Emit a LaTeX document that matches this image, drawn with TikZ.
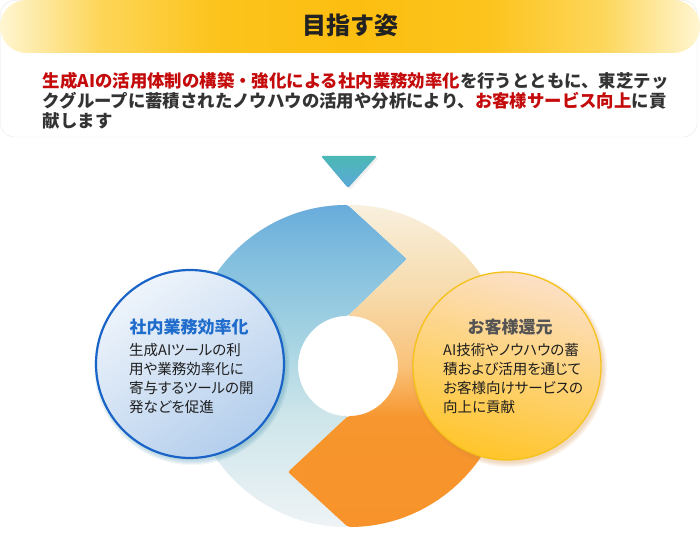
\documentclass[tikz,border=0pt]{standalone}
\usepackage{fontspec}
\setmainfont{Noto Sans CJK JP}
\newfontfamily\jpp[RawFeature=+palt]{Noto Sans CJK JP}
\XeTeXlinebreaklocale "ja"
\XeTeXlinebreakskip=0pt plus 3pt minus 1pt
\definecolor{redtxt}{HTML}{C40A0A}
\definecolor{graytxt}{HTML}{333333}
\definecolor{hdtext}{HTML}{222222}
\definecolor{hp}{HTML}{FFF6D2}
\definecolor{hm}{HTML}{FDD65A}
\definecolor{hq}{HTML}{FCC41E}
\definecolor{hg}{HTML}{FCBE10}
\definecolor{bs0}{HTML}{EEF3F6}
\definecolor{bs1}{HTML}{CDE5EA}
\definecolor{bs2}{HTML}{A3D2E2}
\definecolor{bs3}{HTML}{80BDDE}
\definecolor{bs4}{HTML}{68ACDC}
\definecolor{os0}{HTML}{F7932A}
\definecolor{os1}{HTML}{F7962E}
\definecolor{os2}{HTML}{F9C27A}
\definecolor{os3}{HTML}{F7DCAE}
\definecolor{os4}{HTML}{F8F0DE}
\definecolor{lcborder}{HTML}{1A64C8}
\definecolor{lctitle}{HTML}{1F6CCC}
\definecolor{rcborder}{HTML}{F5C21B}
\definecolor{rctitle}{HTML}{545454}
\definecolor{bodytxt}{HTML}{1E1E1E}
\pgfdeclarehorizontalshading{hdrshade}{100bp}{color(0bp)=(hp); color(25bp)=(hp); color(32bp)=(hm); color(40bp)=(hq); color(50bp)=(hg); color(60bp)=(hq); color(68bp)=(hm); color(75bp)=(hp); color(100bp)=(hp)}
\pgfdeclareverticalshading{blueshade}{100bp}{color(0bp)=(bs0); color(25bp)=(bs0); color(42.5bp)=(bs1); color(55bp)=(bs2); color(67.5bp)=(bs3); color(75bp)=(bs4); color(100bp)=(bs4)}
\pgfdeclareverticalshading{orshade}{100bp}{color(0bp)=(os0); color(25bp)=(os0); color(42bp)=(os1); color(50bp)=(os2); color(62bp)=(os3); color(75bp)=(os4); color(100bp)=(os4)}
\tikzset{
  paraline/.style={anchor=base west, inner sep=0pt, font=\bfseries\fontsize{17.4}{20}\selectfont, text=graytxt},
  bodyline/.style={anchor=base west, inner sep=0pt, font=\jpp\fontsize{14.5}{19}\selectfont, text=bodytxt},
  ctitle/.style={inner sep=0pt, font=\bfseries\fontsize{17}{20}\selectfont},
}
\begin{document}
\begin{tikzpicture}[x=1pt,y=1pt]
\useasboundingbox (0,0) rectangle (700,540);
\fill[white] (0,0) rectangle (700,540);
% top panel
\draw[draw=black!9, fill=white, rounded corners=14pt] (0.5,403) rectangle (697,539.5);
% header bar
\shade[shading=hdrshade, rounded corners=26.5pt] (0,487) rectangle (700,540);
\node[font=\bfseries\fontsize{24}{28}\selectfont, text=hdtext, inner sep=0pt] (title) at (350,515) {目指す姿};
% paragraph
\node[paraline] (p1) at (42.7,452) {\hbox to 619pt{{\color{redtxt}生成AIの活用体制の構築・強化による社内業務効率化}を行うとともに、東芝テッ}};
\node[paraline] (p2) at (42.7,432) {\hbox to 627pt{クグループに蓄積されたノウハウの活用や分析により、{\color{redtxt}お客様サービス向上}に貢}};
\node[paraline] (p3) at (42.7,412) {献します};
% triangle
\fill[black, opacity=0.06, rounded corners=2pt] (323,382) -- (379,382) -- (350,350) -- cycle;
\shade[top color=black!0!teal!60!cyan!70!blue!40!white, bottom color=white, rounded corners=2pt, draw=none, shading=axis, top color={rgb,255:red,75;green,184;blue,180}, bottom color={rgb,255:red,91;green,168;blue,216}] (321,384) -- (377,384) -- (348,352) -- cycle;
% ring: blue half
\shade[shading=blueshade, rounded corners=2pt] (348,335) arc[start angle=90, end angle=270, radius=161pt] -- (288,68) -- (348,124) arc[start angle=270, end angle=90, radius=50pt] -- (407,281) -- cycle;
% ring: orange half
\shade[shading=orshade, rounded corners=2pt] (348,335) arc[start angle=90, end angle=-90, radius=161pt] -- (288,68) -- (348,124) arc[start angle=-90, end angle=90, radius=50pt] -- (407,281) -- cycle;
% shadows of circles
\foreach \k in {1,...,5}{
  \fill[color={rgb,255:red,60;green,140;blue,170}, opacity=0.07] (192,173) circle[radius=93pt+\k*1pt];
  \fill[color={rgb,255:red,215;green,140;blue,60}, opacity=0.07] (509,171) circle[radius=93pt+\k*1pt];
}
% left circle
\node[circle, minimum size=188pt, inner sep=0pt, draw=lcborder, line width=2.2pt, shading=axis, top color={rgb,255:red,238;green,244;blue,251}, bottom color={rgb,255:red,180;green,206;blue,236}, shading angle=35] (lc) at (190,176) {};
\node[ctitle, text=lctitle] (lct) at (189,213) {社内業務効率化};
\node[bodyline] (lb1) at (129,184.5) {生成AIツールの利};
\node[bodyline] (lb2) at (129,165.5) {用や業務効率化に};
\node[bodyline] (lb3) at (129,146.5) {寄与するツールの開};
\node[bodyline] (lb4) at (129,127.5) {発などを促進};
% right circle
\node[circle, minimum size=188pt, inner sep=0pt, draw=rcborder, line width=1.3pt, shading=axis, left color={rgb,255:red,252;green,224;blue,198}, right color={rgb,255:red,255;green,197;blue,42}, shading angle=-15] (rc) at (507,174) {};
\node[ctitle, text=rctitle] (rct) at (510,213) {お客様還元};
\node[bodyline] (rb1) at (443,184.5) {AI技術やノウハウの蓄};
\node[bodyline] (rb2) at (443,165.5) {積および活用を通じて};
\node[bodyline] (rb3) at (443,146.5) {お客様向けサービスの};
\node[bodyline] (rb4) at (443,127.5) {向上に貢献};
\end{tikzpicture}
\end{document}
